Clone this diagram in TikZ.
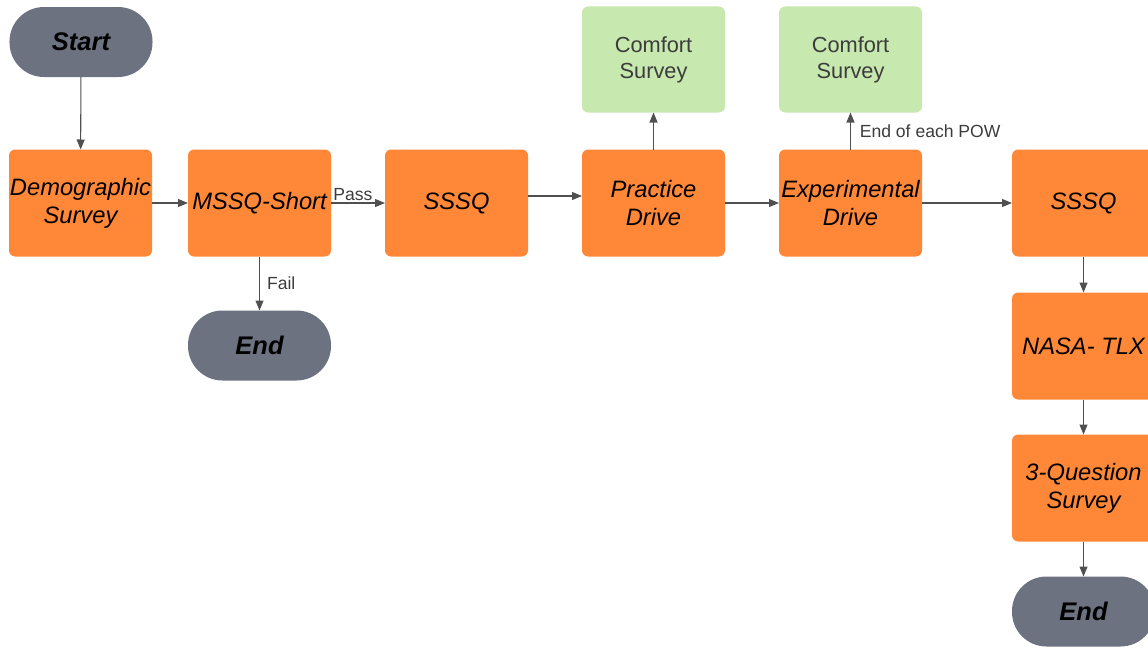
\documentclass[tikz,border=0pt]{standalone}
\usepackage{fontspec}
\setmainfont{Liberation Sans}
\usepackage{tikz}
\usetikzlibrary{arrows.meta, positioning}
\definecolor{boxorange}{RGB}{255, 136, 56}
\definecolor{termgray}{RGB}{108, 114, 127}
\definecolor{surveygreen}{RGB}{199, 232, 174}
\definecolor{linegray}{RGB}{80, 80, 80}
\definecolor{labelgray}{RGB}{60, 60, 60}

\begin{document}
\begin{tikzpicture}[
    task/.style={fill=boxorange, rounded corners=3.5pt, minimum width=2.86cm,
                 minimum height=2.14cm, align=center, inner sep=0pt, outer sep=0pt,
                 font=\fontsize{13.5}{16}\selectfont\itshape},
    terminal/.style={fill=termgray, rounded corners=0.69cm, minimum width=2.86cm,
                 minimum height=1.4cm, outer sep=0pt,
                 font=\fontsize{14.5}{17}\selectfont\bfseries\itshape},
    comfort/.style={fill=surveygreen, rounded corners=3.5pt, minimum width=2.86cm,
                 minimum height=2.12cm, align=center, outer sep=0pt, text=labelgray,
                 font=\fontsize{12.4}{14.7}\selectfont},
    arr/.style={draw=linegray, line width=0.6pt, -{Triangle[length=2mm,width=1.6mm]}},
    lbl/.style={text=labelgray, font=\fontsize{10}{12}\selectfont, inner sep=1pt}
]
    \useasboundingbox (0,0) rectangle (22.96,-12.96);

    % main row
    \node[terminal] (start) at (1.62,-0.84) {Start};
    \node[task] (demo) at (1.61,-4.06) {Demographic\\Survey};
    \node[task, right=0.72cm of demo] (mssq) {MSSQ-Short};
    \node[task, right=1.08cm of mssq] (sssqA) {SSSQ};
    \node[task, right=1.08cm of sssqA] (practice) {Practice\\Drive};
    \node[task, right=1.08cm of practice] (experiment) {Experimental\\Drive};
    \node[task, right=1.8cm of experiment] (sssqB) {SSSQ};

    % side branches
    \node[terminal, below=1.08cm of mssq] (endA) {End};
    \node[comfort, above=0.74cm of practice] (comfortA) {Comfort\\Survey};
    \node[comfort, above=0.74cm of experiment] (comfortB) {Comfort\\Survey};

    % final column
    \node[task, below=0.72cm of sssqB] (nasa) {NASA- TLX};
    \node[task, below=0.7cm of nasa] (three) {3-Question\\Survey};
    \node[terminal, below=0.7cm of three] (endB) {End};

    \draw[arr] (start) -- (demo);
    \draw[arr] (demo) -- (mssq);
    \draw[arr] (mssq) -- node[lbl, above right, pos=0] {Pass} (sssqA);
    \draw[arr] (mssq) -- node[lbl, right=3pt, midway] {Fail} (endA);
    \draw[arr] ([yshift=1.4mm]sssqA.east) -- ([yshift=1.4mm]sssqA.east -| practice.west);
    \draw[arr] (practice) -- (comfortA);
    \draw[arr] (practice) -- (experiment);
    \draw[arr] (experiment) -- node[lbl, right=4pt, midway] {End of each POW} (comfortB);
    \draw[arr] (experiment) -- (sssqB);
    \draw[arr] (sssqB) -- (nasa);
    \draw[arr] (nasa) -- (three);
    \draw[arr] (three) -- (endB);
\end{tikzpicture}
\end{document}
